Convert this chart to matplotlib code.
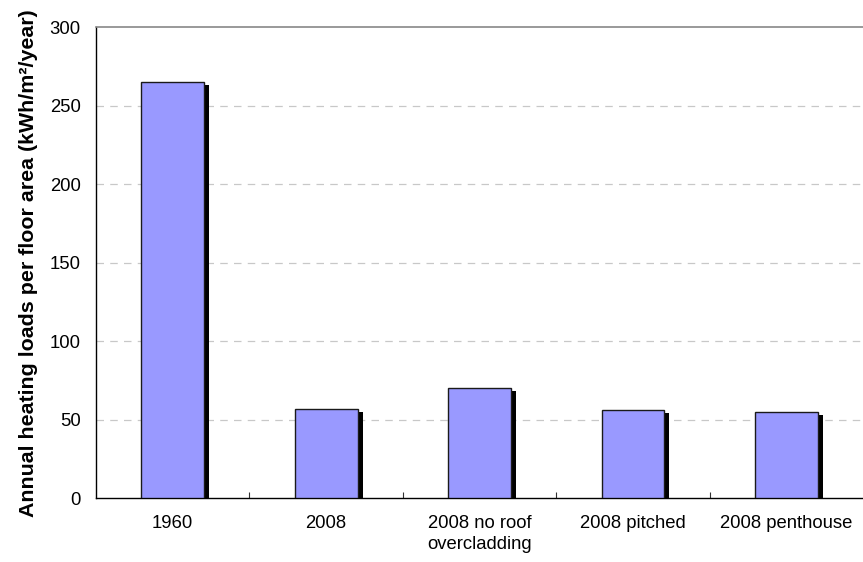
import matplotlib
matplotlib.use("Agg")
import matplotlib.pyplot as plt
import matplotlib.transforms as mtransforms
import numpy as np

# data
categories = ["1960", "2008", "2008 no roof\novercladding", "2008 pitched", "2008 penthouse"]
heating_loads = [265, 57, 70, 56, 55]
y_ticks = [0, 50, 100, 150, 200, 250, 300]

plt.rcParams["font.family"] = ["Liberation Sans", "DejaVu Sans"]

fig = plt.figure(figsize=(8.63, 5.62), dpi=100)
ax = fig.add_axes([0.1112, 0.1134, 0.889, 0.838])

x = np.arange(len(categories))
bar_w = 0.41

#black drop shadow, shifted a few pixels right and down
shadow_tr = mtransforms.offset_copy(ax.transData, fig=fig, x=5, y=-3, units="dots")
ax.bar(x, heating_loads, width=bar_w, color="black", transform=shadow_tr, zorder=2)
ax.bar(x, heating_loads, width=bar_w, color="#9999ff", edgecolor="#1a1a1a",
       linewidth=1.0, zorder=3)

ax.set_xlim(-0.5, len(categories) - 0.5)
ax.set_ylim(0, 300)
ax.set_yticks(y_ticks)
ax.tick_params(axis="y", length=0, pad=11, labelsize=13.3)

# labels under categories, small inward ticks at the boundaries
ax.set_xticks(x)
ax.set_xticklabels(categories, fontsize=13.3, linespacing=1.3)
ax.tick_params(axis="x", which="major", length=0, pad=12)
ax.set_xticks(x[:-1] + 0.5, minor=True)
ax.tick_params(axis="x", which="minor", direction="in", length=4, width=0.8, color="#333333")

for yv in y_ticks[1:-1]:
    ax.axhline(yv, color="#c8c8c8", linestyle=(0, (6, 5)), linewidth=0.9, zorder=1)

ax.spines["right"].set_visible(False)
ax.spines["top"].set_color("#888888")
ax.spines["top"].set_linewidth(1.2)
ax.spines["left"].set_linewidth(1.0)
ax.spines["bottom"].set_linewidth(1.0)

ax.set_ylabel("Annual heating loads per floor area (kWh/m²/year)",
              fontsize=15.4, fontweight="bold", labelpad=8)

fig.savefig("out.png", dpi=100)
